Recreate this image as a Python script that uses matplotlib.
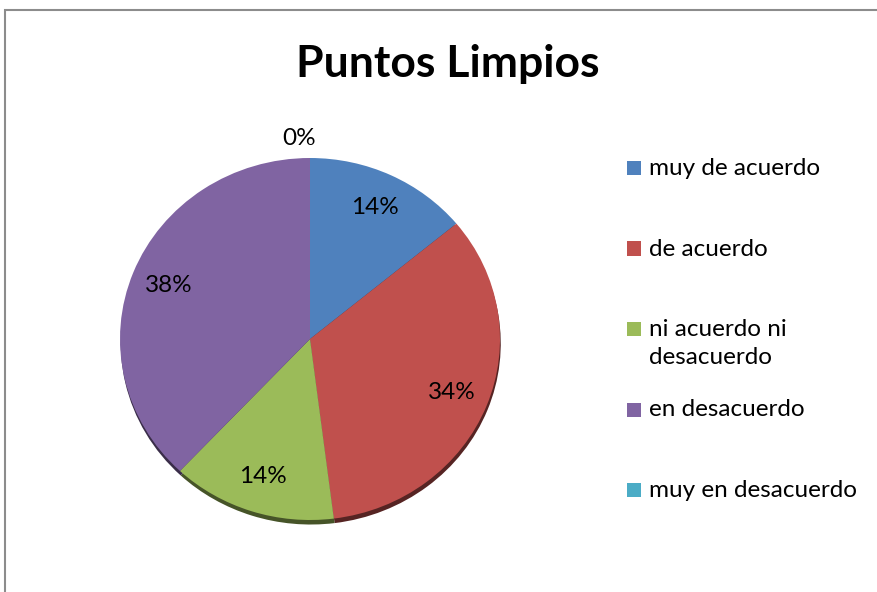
import numpy as np
import matplotlib
matplotlib.use("Agg")
import matplotlib.pyplot as plt
from matplotlib.colors import to_rgb
from matplotlib.patches import Rectangle

# survey answers (counts) for "Puntos Limpios"
categories = ["muy de acuerdo", "de acuerdo", "ni acuerdo ni\ndesacuerdo",
              "en desacuerdo", "muy en desacuerdo"]
counts = [7, 17, 7, 19, 0]
colors = ["#4F81BD", "#C0504D", "#9BBB59", "#8064A2", "#4BACC6"]

plt.rcParams["font.family"] = ["Lato", "DejaVu Sans"]

W, H = 878, 592
fig = plt.figure(figsize=(W / 100, H / 100), dpi=100)

# chart frame
fig.patches.append(Rectangle((5 / W, -0.1), 1.2, (H - 10) / H + 0.1, transform=fig.transFigure,
                             fill=False, edgecolor="#8c8c8c", linewidth=1.5))

fig.text(448 / W, 1 - 64 / H, "Puntos Limpios", ha="center", va="center",
         fontsize=32, fontweight="bold")

# pie axes (slightly flattened, like the Excel original)
cx, cy, rx, ry = 310, 339, 190, 181
ax = fig.add_axes([(cx - rx) / W, 1 - (cy + ry) / H, 2 * rx / W, 2 * ry / H])

# darker copy shifted down works as the drop shadow
dark = [tuple(c * 0.45 for c in to_rgb(col)) for col in colors]
ax.pie(counts, colors=dark, startangle=90, counterclock=False, center=(0.004, -0.025),
       wedgeprops=dict(linewidth=0))
wedges, _ = ax.pie(counts, colors=colors, startangle=90, counterclock=False,
                   wedgeprops=dict(linewidth=0))
ax.set_aspect("auto")
ax.set_xlim(-1, 1)
ax.set_ylim(-1, 1)

total = sum(counts)
for w, n in zip(wedges, counts):
    mid = np.deg2rad((w.theta1 + w.theta2) / 2)
    dist = 0.8 if n > 0 else 1.11
    ax.text(dist * np.cos(mid) - (0 if n > 0 else 0.06), dist * np.sin(mid), f"{n / total:.0%}",
            ha="center", va="center", fontsize=17.5)

# legend: handles evenly spaced, text hangs from the first line
leg_x, leg_y0, leg_dy = 627, 168, 80.5
for i, (lab, col) in enumerate(zip(categories, colors)):
    y = leg_y0 + i * leg_dy
    fig.patches.append(Rectangle((leg_x / W, 1 - (y + 7) / H), 14 / W, 14 / H,
                                 transform=fig.transFigure, facecolor=col, edgecolor="none"))
    fig.text((leg_x + 22) / W, 1 - (y - 10) / H, lab, ha="left", va="top",
             fontsize=17.5, linespacing=1.4)

fig.savefig("out.png", dpi=100)
